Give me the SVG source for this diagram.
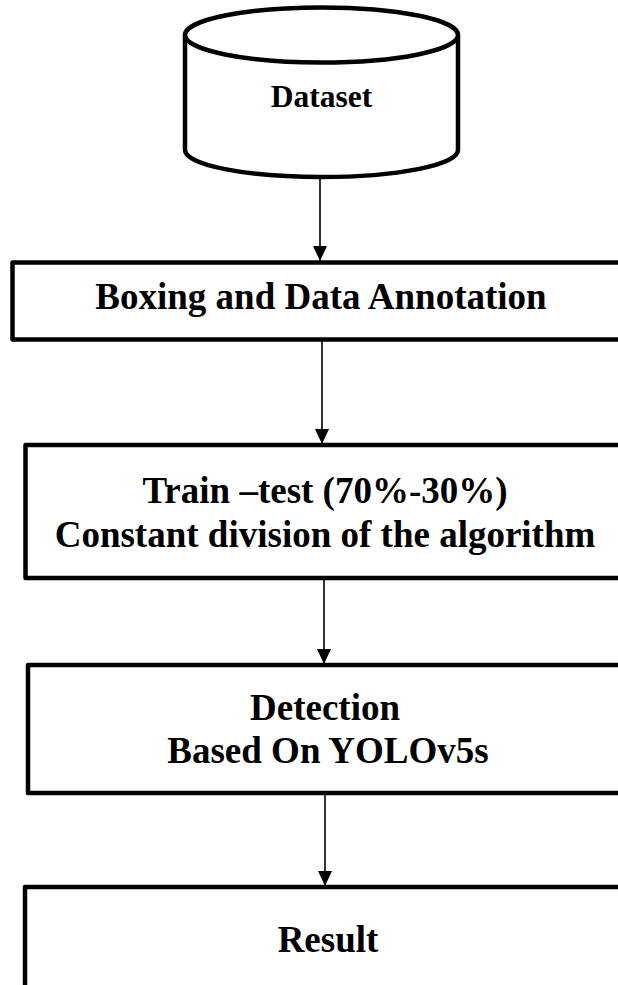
<svg xmlns="http://www.w3.org/2000/svg" width="618" height="985" viewBox="0 0 618 985">
<style>
.box{fill:#fff;stroke:#000;stroke-width:4.5;stroke-linejoin:round}
.lbl{font-family:"Liberation Serif","Times New Roman",serif;font-weight:bold;font-size:37px;fill:#000;text-anchor:middle}
.edge{stroke:#000;stroke-width:1.6;fill:none}
</style>
<defs>
<marker id="arr" markerWidth="16" markerHeight="14" refX="15" refY="7" orient="auto" markerUnits="userSpaceOnUse">
<path d="M0,0 L15,7 L0,14 Z" fill="#000"/>
</marker>
</defs>
<g id="connectors">
<line class="edge" x1="320" y1="176" x2="320" y2="261" marker-end="url(#arr)"/>
<line class="edge" x1="322" y1="341" x2="322" y2="444" marker-end="url(#arr)"/>
<line class="edge" x1="324" y1="579" x2="324" y2="664" marker-end="url(#arr)"/>
<line class="edge" x1="325" y1="795" x2="325" y2="886" marker-end="url(#arr)"/>
</g>
<g id="dataset">
<path class="box" d="M185,35 L185,150 A136.5,27 0 0 0 458,150 L458,35"/>
<ellipse class="box" cx="321.5" cy="35" rx="136.5" ry="27.5"/>
<text class="lbl" x="321.5" y="107" style="font-size:31.5px">Dataset</text>
</g>
<g id="boxing">
<rect class="box" x="12.5" y="262.5" width="640" height="77"/>
<text class="lbl" x="321" y="309">Boxing and Data Annotation</text>
</g>
<g id="split">
<rect class="box" x="25.5" y="445" width="640" height="133"/>
<text class="lbl" x="325" y="503">Train –test (70%-30%)</text>
<text class="lbl" x="325" y="547">Constant division of the algorithm</text>
</g>
<g id="detection">
<rect class="box" x="28" y="665" width="640" height="128"/>
<text class="lbl" x="325" y="720">Detection</text>
<text class="lbl" x="328" y="763">Based On YOLOv5s</text>
</g>
<g id="result">
<rect class="box" x="25" y="887" width="640" height="200"/>
<text class="lbl" x="328" y="952">Result</text>
</g>
</svg>
